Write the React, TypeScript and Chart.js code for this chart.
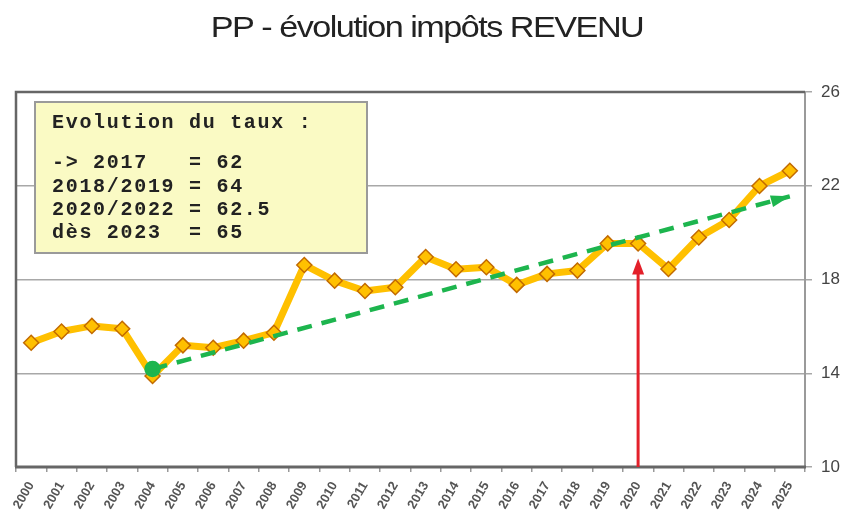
import React, { useEffect, useRef } from 'react';
import { Chart, registerables } from 'chart.js';

Chart.register(...registerables);

const titleText = 'PP - évolution impôts REVENU';
const years = ['2000', '2001', '2002', '2003', '2004', '2005', '2006', '2007', '2008', '2009', '2010', '2011', '2012', '2013', '2014', '2015', '2016', '2017', '2018', '2019', '2020', '2021', '2022', '2023', '2024', '2025'];
const impots = [15.3, 15.78, 16.02, 15.9, 13.88, 15.19, 15.09, 15.39, 15.73, 18.62, 17.95, 17.51, 17.67, 18.96, 18.44, 18.52, 17.77, 18.24, 18.38, 19.54, 19.54, 18.45, 19.79, 20.54, 21.99, 22.64];
const trendYears = ['2004', '2025'];
const trendValues = [14.18, 21.55];
const yMin = 10;
const yMax = 26;
const yStep = 4;
const arrowYear = '2020';
const arrowFrom = 10;
const arrowTo = 18.9;
const noteLines = ['Evolution du taux :', '', '-> 2017   = 62', '2018/2019 = 64', '2020/2022 = 62.5', 'dès 2023  = 65'];

const ORANGE = '#FFC000';
const MARKER_BORDER = '#C26A00';
const GREEN = '#1DB54E';
const RED = '#E3202A';

const trendData = years.map((y) => {
  const i = trendYears.indexOf(y);
  return i >= 0 ? trendValues[i] : null;
});

const decorPlugin = {
  id: 'decor',
  beforeDatasetsDraw(chart: any) {
    const { ctx, chartArea: a } = chart;
    ctx.save();
    ctx.lineCap = 'butt';
    ctx.strokeStyle = '#9a9a9a';
    ctx.lineWidth = 2;
    ctx.beginPath();
    ctx.moveTo(a.right, a.top);
    ctx.lineTo(a.right, a.bottom);
    ctx.stroke();
    ctx.strokeStyle = '#666';
    ctx.lineWidth = 2.5;
    ctx.beginPath();
    ctx.moveTo(a.right, a.top);
    ctx.lineTo(a.left, a.top);
    ctx.lineTo(a.left, a.bottom);
    ctx.stroke();
    ctx.lineWidth = 3;
    ctx.beginPath();
    ctx.moveTo(a.left - 1, a.bottom);
    ctx.lineTo(a.right + 1, a.bottom);
    ctx.stroke();
    ctx.restore();
  },
  afterDatasetsDraw(chart: any) {
    const { ctx } = chart;
    const xs = chart.scales.x;
    const ys = chart.scales.y;
    ctx.save();
    // red arrow
    const ax = xs.getPixelForValue(years.indexOf(arrowYear));
    const ay0 = ys.getPixelForValue(arrowFrom);
    const ay1 = ys.getPixelForValue(arrowTo);
    ctx.strokeStyle = RED;
    ctx.fillStyle = RED;
    ctx.lineWidth = 3;
    ctx.beginPath();
    ctx.moveTo(ax, ay0);
    ctx.lineTo(ax, ay1 + 12);
    ctx.stroke();
    ctx.beginPath();
    ctx.moveTo(ax, ay1);
    ctx.lineTo(ax - 6, ay1 + 16);
    ctx.lineTo(ax + 6, ay1 + 16);
    ctx.closePath();
    ctx.fill();
    // green arrowhead
    const gx0 = xs.getPixelForValue(years.indexOf(trendYears[0]));
    const gy0 = ys.getPixelForValue(trendValues[0]);
    const gx1 = xs.getPixelForValue(years.indexOf(trendYears[1]));
    const gy1 = ys.getPixelForValue(trendValues[1]);
    const ang = Math.atan2(gy1 - gy0, gx1 - gx0);
    const L = 19;
    const W = 6;
    ctx.fillStyle = GREEN;
    ctx.beginPath();
    ctx.moveTo(gx1, gy1);
    ctx.lineTo(gx1 - L * Math.cos(ang) + W * Math.sin(ang), gy1 - L * Math.sin(ang) - W * Math.cos(ang));
    ctx.lineTo(gx1 - L * Math.cos(ang) - W * Math.sin(ang), gy1 - L * Math.sin(ang) + W * Math.cos(ang));
    ctx.closePath();
    ctx.fill();
    ctx.restore();
  },
  afterDraw(chart: any) {
    const { ctx } = chart;
    ctx.save();
    // title
    ctx.save();
    ctx.fillStyle = '#222';
    ctx.font = '29px "Liberation Sans", Arial, sans-serif';
    (ctx as any).letterSpacing = '-1.3px';
    ctx.textAlign = 'center';
    ctx.textBaseline = 'alphabetic';
    ctx.translate(427, 37);
    ctx.scale(1.18, 1);
    ctx.fillText(titleText, 0, 0);
    ctx.restore();
    // note box
    const bx = 35, by = 102, bw = 332, bh = 151;
    ctx.fillStyle = '#FAFAC4';
    ctx.fillRect(bx, by, bw, bh);
    ctx.strokeStyle = '#9a9a9a';
    ctx.lineWidth = 2;
    ctx.strokeRect(bx, by, bw, bh);
    ctx.fillStyle = '#222';
    ctx.font = 'bold 20px "Liberation Mono", "Courier New", monospace';
    (ctx as any).letterSpacing = '1.7px';
    ctx.textAlign = 'left';
    ctx.textBaseline = 'middle';
    const ly = [123, 143, 163, 187, 210, 233];
    noteLines.forEach((t, i) => {
      if (t) ctx.fillText(t, 52, ly[i]);
    });
    ctx.restore();
  },
};

export default function App() {
  const ref = useRef<HTMLCanvasElement>(null);
  useEffect(() => {
    document.body.style.margin = '0';
    const chart = new Chart(ref.current!, {
      type: 'line',
      data: {
        labels: years,
        datasets: [
          {
            label: 'tendance',
            data: trendData,
            spanGaps: true,
            borderColor: GREEN,
            borderWidth: 4.5,
            borderDash: [15, 10],
            pointRadius: years.map((y) => (y === trendYears[0] ? 6 : 0)),
            pointBackgroundColor: GREEN,
            pointBorderColor: GREEN,
            order: 0,
          },
          {
            label: 'impôts',
            data: impots,
            borderColor: ORANGE,
            borderWidth: 7,
            pointStyle: 'rectRot',
            pointRadius: 7.5,
            pointBackgroundColor: ORANGE,
            pointBorderColor: MARKER_BORDER,
            pointBorderWidth: 1.5,
            borderJoinStyle: 'round',
            order: 1,
          },
        ],
      },
      options: {
        animation: false,
        responsive: true,
        maintainAspectRatio: false,
        layout: { padding: { left: 16, top: 92, right: 0, bottom: 0 } },
        plugins: { legend: { display: false }, tooltip: { enabled: false }, title: { display: false } },
        scales: {
          x: {
            offset: true,
            border: { display: false },
            grid: { offset: true, drawOnChartArea: false, drawTicks: true, tickLength: 5, color: '#999', lineWidth: 1.5 },
            ticks: {
              minRotation: 60,
              maxRotation: 60,
              autoSkip: false,
              padding: 7,
              color: '#555',
              font: { size: 13, weight: 'bold', family: '"Liberation Sans", Arial, sans-serif' },
            },
            afterFit: (s: any) => {
              s.height = 47;
            },
          },
          y: {
            position: 'right',
            min: yMin,
            max: yMax,
            border: { display: false },
            grid: { color: '#a8a8a8', lineWidth: 1.5, tickLength: 7 },
            ticks: {
              stepSize: yStep,
              padding: 9,
              color: '#444',
              font: { size: 17, family: '"Liberation Sans", Arial, sans-serif' },
            },
            afterFit: (s: any) => {
              s.width = 45;
            },
          },
        },
      },
      plugins: [decorPlugin],
    });
    return () => chart.destroy();
  }, []);
  return (
    <div style={{ width: 850, height: 514, position: 'relative' }}>
      <canvas ref={ref} />
    </div>
  );
}
